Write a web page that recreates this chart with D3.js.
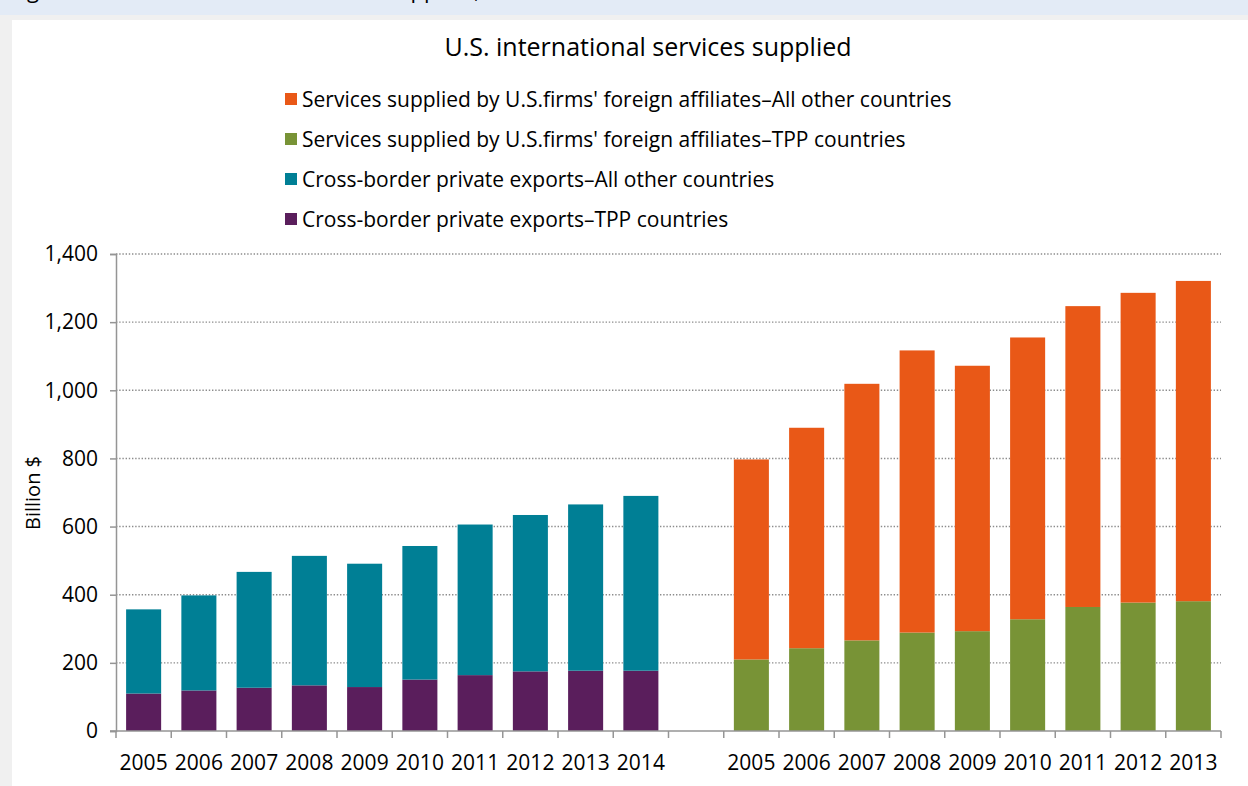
<!DOCTYPE html>
<html lang="en">
<head>
  <meta charset="UTF-8" />
  <title>U.S. international services supplied</title>
  <script src="https://d3js.org/d3.v7.min.js"></script>
  <style>
    body { margin: 0; background: #f0f0f0; }
    svg { display: block; }
    text { font-family: "Open Sans", sans-serif; fill: #000; }
  </style>
</head>
<body>
  <svg id="chart" width="1248" height="786"></svg>

  <script>
    // values, billion $
    const crossYears = ["2005", "2006", "2007", "2008", "2009", "2010", "2011", "2012", "2013", "2014"];
    const crossTPP = [110, 119, 127, 134, 129, 151, 164, 175, 177, 177];
    const crossOther = [247, 279, 340, 380, 362, 392, 442, 459, 488, 513];

    const affYears = ["2005", "2006", "2007", "2008", "2009", "2010", "2011", "2012", "2013"];
    const affTPP = [210, 243, 266, 289, 293, 328, 364, 377, 381];
    const affOther = [587, 647, 753, 828, 779, 827, 883, 909, 940];

    const yTicks = [0, 200, 400, 600, 800, 1000, 1200, 1400];

    const legendItems = [
      { label: "Services supplied by U.S.firms' foreign affiliates\u2013All other countries", color: "#e95817" },
      { label: "Services supplied by U.S.firms' foreign affiliates\u2013TPP countries", color: "#789336" },
      { label: "Cross-border private exports\u2013All other countries", color: "#007f95" },
      { label: "Cross-border private exports\u2013TPP countries", color: "#5a1e5c" }
    ];

    const svg = d3.select("#chart");

    // page furniture: header band (its caption is cut by the page top) and white panel
    svg.append("rect").attr("x", 0).attr("y", 0).attr("width", 1248).attr("height", 15).attr("fill", "#e3ebf6");
    svg.append("rect").attr("x", 12).attr("y", 20).attr("width", 1236).attr("height", 766).attr("fill", "#fff");
    svg.append("text")
      .attr("x", 10).attr("y", -2)
      .attr("font-size", 22)
      .text("Figure 2.1 U.S. international services supplied, 2005\u201314");

    // chart title
    svg.append("text")
      .attr("x", 648).attr("y", 56)
      .attr("text-anchor", "middle")
      .attr("font-size", 25)
      .text("U.S. international services supplied");

    // legend
    const legend = svg.append("g").attr("transform", "translate(285,0)");
    legendItems.forEach((d, i) => {
      const cy = 99 + i * 40;
      legend.append("rect").attr("x", 0).attr("y", cy - 6).attr("width", 12).attr("height", 12).attr("fill", d.color);
      legend.append("text").attr("x", 17).attr("y", cy + 8).attr("font-size", 21).text(d.label);
    });

    // rows for the stack
    const rows = crossYears.map((yr, i) => ({ key: "A" + yr, year: yr, a: crossTPP[i], b: crossOther[i], ca: "#5a1e5c", cb: "#007f95" }))
      .concat(affYears.map((yr, i) => ({ key: "B" + yr, year: yr, a: affTPP[i], b: affOther[i], ca: "#789336", cb: "#e95817" })));
    const keys = crossYears.map(d => "A" + d).concat(["gap"], affYears.map(d => "B" + d));

    const x = d3.scaleBand().domain(keys).range([116, 1221]).paddingInner(0.366).paddingOuter(0.183);
    const y = d3.scaleLinear().domain([0, 1400]).range([731, 254]);

    // gridlines
    svg.append("g")
      .selectAll("line")
      .data(yTicks.slice(1))
      .join("line")
      .attr("x1", 116).attr("x2", 1221)
      .attr("y1", d => y(d)).attr("y2", d => y(d))
      .attr("stroke", "#8c8c8c")
      .attr("stroke-width", 1.4)
      .attr("stroke-dasharray", "1.4,1.8");

    // bars
    const bars = svg.append("g");
    bars.selectAll("rect.lo")
      .data(rows)
      .join("rect")
      .attr("class", "lo")
      .attr("x", d => x(d.key))
      .attr("width", x.bandwidth())
      .attr("y", d => y(d.a))
      .attr("height", d => y(0) - y(d.a))
      .attr("fill", d => d.ca);
    bars.selectAll("rect.hi")
      .data(rows)
      .join("rect")
      .attr("class", "hi")
      .attr("x", d => x(d.key))
      .attr("width", x.bandwidth())
      .attr("y", d => y(d.a + d.b))
      .attr("height", d => y(d.a) - y(d.a + d.b))
      .attr("fill", d => d.cb);

    // y axis
    const yAxis = svg.append("g")
      .attr("transform", "translate(116,0)")
      .call(d3.axisLeft(y).tickValues(yTicks).tickFormat(d3.format(",")).tickSize(6).tickPadding(12));
    yAxis.select(".domain").attr("stroke", "#959595").attr("stroke-width", 1.5);
    yAxis.selectAll(".tick line").attr("stroke", "#959595").attr("stroke-width", 1.5);
    yAxis.selectAll(".tick text").attr("font-size", 21).attr("font-family", "Open Sans, sans-serif").attr("fill", "#000");

    svg.append("text")
      .attr("transform", "translate(40,493) rotate(-90)")
      .attr("text-anchor", "middle")
      .attr("font-size", 20)
      .text("Billion $");

    // x axis: line, ticks on band boundaries, labels
    const xa = svg.append("g");
    xa.append("line")
      .attr("x1", 110).attr("x2", 1221)
      .attr("y1", y(0)).attr("y2", y(0))
      .attr("stroke", "#959595").attr("stroke-width", 1.5);
    const step = x.step();
    xa.selectAll("line.tk")
      .data(d3.range(keys.length + 1))
      .join("line")
      .attr("class", "tk")
      .attr("x1", i => 116 + i * step).attr("x2", i => 116 + i * step)
      .attr("y1", y(0)).attr("y2", y(0) + 7)
      .attr("stroke", "#959595").attr("stroke-width", 1.5);
    xa.selectAll("text")
      .data(rows)
      .join("text")
      .attr("x", d => x(d.key) + x.bandwidth() / 2)
      .attr("y", 770)
      .attr("text-anchor", "middle")
      .attr("font-size", 21)
      .text(d => d.year);
  </script>
</body>
</html>
